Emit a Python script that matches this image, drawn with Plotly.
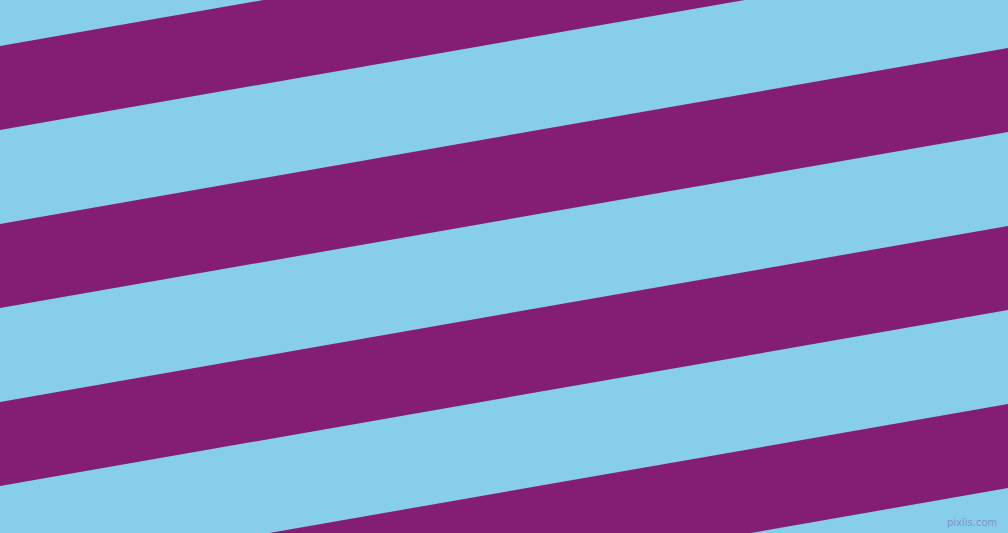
import math
import plotly.graph_objects as go

W, H = 1008, 533
BG_COLOR = '#87ceeb'
STRIPE_COLOR = '#841e74'

# y where each purple band's top edge crosses x=0 (pixels, measured from top)
band_tops = [-132, 46, 224, 402, 580]
band_height = 84          # vertical thickness of a purple band
tilt_deg = 9.9            # bands rise to the right

slope = math.tan(math.radians(tilt_deg))

fig = go.Figure()
for top in band_tops:
    y0l, y1l = top, top + band_height
    y0r, y1r = top - slope * W, top + band_height - slope * W
    fig.add_trace(go.Scatter(
        x=[0, W, W, 0, 0], y=[y0l, y0r, y1r, y1l, y0l],
        mode='lines', fill='toself', fillcolor=STRIPE_COLOR,
        line=dict(width=0, color=STRIPE_COLOR), hoverinfo='skip', showlegend=False))

fig.add_annotation(x=999, y=522, xref='x', yref='y', text='pixlis.com', showarrow=False,
                   xanchor='right', yanchor='middle',
                   font=dict(family='DejaVu Sans', size=10, color='#8291cc'))

fig.update_xaxes(range=[0, W], visible=False, fixedrange=True)
fig.update_yaxes(range=[H, 0], visible=False, fixedrange=True)
fig.update_layout(width=W, height=H, margin=dict(l=0, r=0, t=0, b=0),
                  paper_bgcolor=BG_COLOR, plot_bgcolor=BG_COLOR)

# drop the browser's default 8px body margin
fig.write_html("out.html", config={'displayModeBar': False},
               post_script="document.body.style.margin='0';document.body.style.overflow='hidden';")
